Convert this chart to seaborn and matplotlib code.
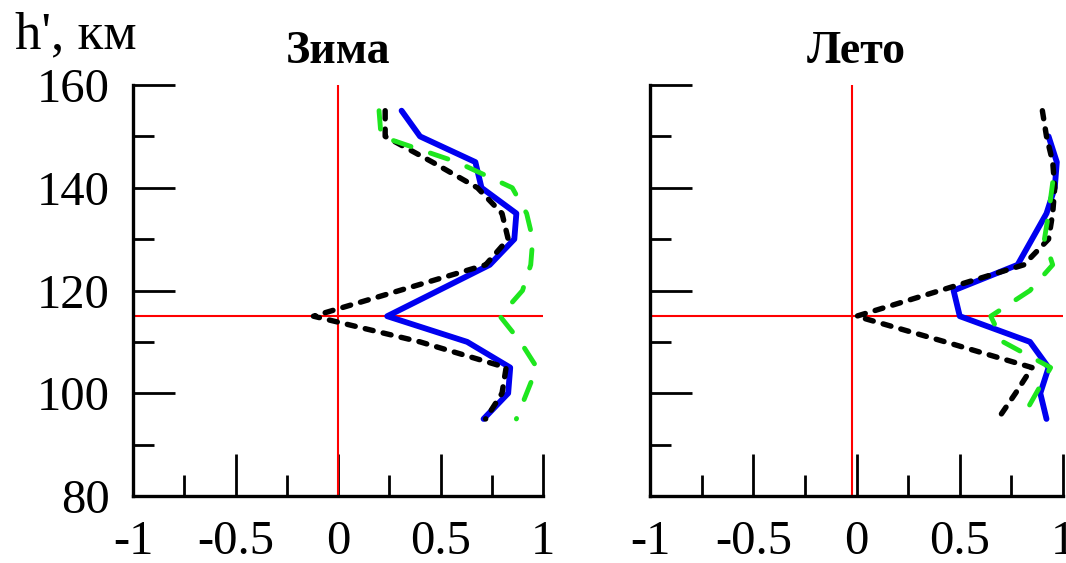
import matplotlib
matplotlib.use("Agg")
import matplotlib.pyplot as plt
import seaborn as sns
from matplotlib.ticker import FixedLocator

# --- Daten ---
# Зима
h_blue_w = [155, 150, 145, 140, 135, 130, 125, 115, 110, 105, 100, 95]
x_blue_w = [0.31, 0.40, 0.67, 0.70, 0.87, 0.86, 0.74, 0.24, 0.63, 0.84, 0.83, 0.71]
h_black_w = [155, 150, 145, 140, 135, 130, 125, 115, 110, 105, 100, 95]
x_black_w = [0.23, 0.23, 0.46, 0.68, 0.80, 0.83, 0.72, -0.12, 0.40, 0.82, 0.80, 0.72]
h_green_w = [155, 150, 145, 140, 135, 130, 125, 120, 115, 110, 105, 100, 95]
x_green_w = [0.20, 0.21, 0.58, 0.85, 0.92, 0.95, 0.94, 0.90, 0.79, 0.89, 0.97, 0.92, 0.87]

# Лето
h_blue_s = [150, 145, 140, 135, 130, 125, 120, 115, 110, 105, 100, 95]
x_blue_s = [0.93, 0.97, 0.96, 0.92, 0.85, 0.78, 0.47, 0.50, 0.84, 0.93, 0.89, 0.92]
h_black_s = [155, 150, 145, 140, 135, 130, 125, 115, 110, 105, 100, 95]
x_black_s = [0.90, 0.92, 0.95, 0.96, 0.95, 0.93, 0.81, 0.0, 0.43, 0.85, 0.77, 0.685]
h_green_s = [141, 135, 130, 125, 120, 115, 110, 105, 100, 95]
x_green_s = [0.95, 0.93, 0.91, 0.95, 0.84, 0.65, 0.71, 0.94, 0.87, 0.80]

titles = ["Зима", "Лето"]
x_ticks = [-1, -0.5, 0, 0.5, 1]
x_ticklabels = ["-1", "-0.5", "0", "0.5", "1"]
y_ticks = [80, 100, 120, 140, 160]
h_level = 115

sns.set_style("white", {"text.color": "black", "xtick.color": "black",
                        "ytick.color": "black", "axes.labelcolor": "black"})
plt.rcParams['font.family'] = ['Liberation Serif', 'DejaVu Serif']
plt.rcParams['lines.dash_capstyle'] = 'round'
plt.rcParams['lines.solid_capstyle'] = 'round'


def draw_panel(ax, title, xb, hb, xk, hk, xg, hg, vline_x=0.0, labels=True):
    ax.axhline(h_level, color="red", lw=1.5, zorder=1)
    ax.axvline(vline_x, color="red", lw=1.5, zorder=1)
    sns.lineplot(x=xb, y=hb, sort=False, estimator=None, ax=ax, color="#0000f0", lw=4.2)
    sns.lineplot(x=xk, y=hk, sort=False, estimator=None, ax=ax, color="black", lw=3.9,
                 linestyle=(0, (1.5, 1.9)))
    sns.lineplot(x=xg, y=hg, sort=False, estimator=None, ax=ax, color="#1ee61e", lw=3.5,
                 linestyle=(0, (3.8, 4.2)))

    ax.set_xlim(-1, 1)
    ax.set_ylim(80, 160)
    sns.despine(ax=ax)
    for s in ["left", "bottom"]:
        ax.spines[s].set_linewidth(2.4)
        ax.spines[s].set_color("black")

    ax.xaxis.set_major_locator(FixedLocator(x_ticks))
    ax.set_xticklabels(x_ticklabels)
    ax.xaxis.set_minor_locator(FixedLocator([-0.75, -0.25, 0.25, 0.75]))
    ax.yaxis.set_major_locator(FixedLocator(y_ticks))
    ax.yaxis.set_minor_locator(FixedLocator([90, 110, 130, 150]))
    ax.tick_params(which="major", direction="in", length=30, width=2, color="black",
                   labelcolor="black", labelsize=35, pad=17, bottom=True, left=True)
    ax.tick_params(which="minor", direction="in", length=15, width=2, color="black",
                   bottom=True, left=True)
    if not labels:
        ax.set_yticklabels([])
    ax.set_xlabel("")
    ax.set_ylabel("")
    ax.set_title(title, fontsize=33, fontweight="bold", pad=16, color="black")


fig = plt.figure(figsize=(10.66, 5.63), dpi=100)
ax1 = fig.add_axes([0.1248, 0.119, 0.3846, 0.730])
ax2 = fig.add_axes([0.6098, 0.119, 0.3874, 0.730])

draw_panel(ax1, titles[0], x_blue_w, h_blue_w, x_black_w, h_black_w, x_green_w, h_green_w)
draw_panel(ax2, titles[1], x_blue_s, h_blue_s, x_black_s, h_black_s, x_green_s, h_green_s,
           vline_x=-0.02, labels=False)

fig.text(15 / 1066, 1 - 48 / 563, "h', км", fontsize=38, ha="left", va="baseline",
         color="black")

fig.savefig("out.png", dpi=100)
